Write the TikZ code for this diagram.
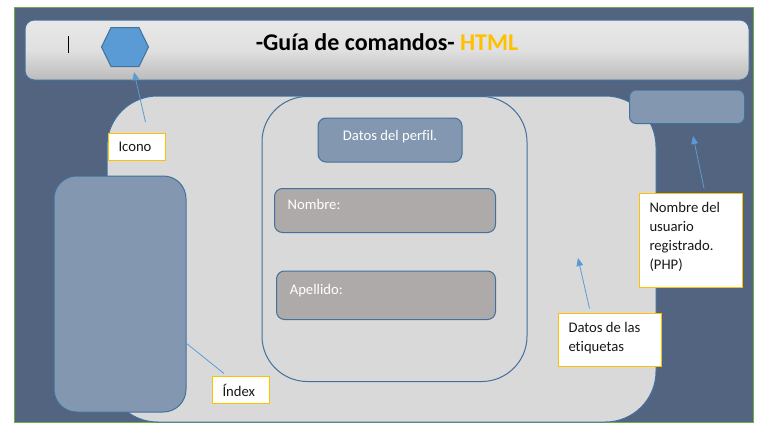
\documentclass[tikz,border=0pt]{standalone}
\usepackage{fontspec}
\setmainfont[Ligatures=NoCommon]{Carlito}
\usetikzlibrary{arrows.meta}
\definecolor{bgblue}{HTML}{526480}
\definecolor{edgeblue}{HTML}{41719C}
\definecolor{lightslate}{HTML}{8497B0}
\definecolor{panelgray}{HTML}{D9D9D9}
\definecolor{stone}{HTML}{AEAAAA}
\definecolor{hexblue}{HTML}{5B9BD5}
\definecolor{gold}{HTML}{FFC000}
\definecolor{framegreen}{HTML}{70AD47}
\definecolor{hdrtop}{HTML}{E8E8E8}
\definecolor{hdrmid}{HTML}{E0E0E0}
\definecolor{hdrbot}{HTML}{BBBBBB}
\pgfdeclareverticalshading{hdrshade}{100bp}{color(0bp)=(hdrbot); color(25bp)=(hdrbot); color(50bp)=(hdrmid); color(75bp)=(hdrtop); color(100bp)=(hdrtop)}
\newdimen\pxu
\pxu=0.75pt
\newcommand{\pxbox}[4][l]{\parbox[t][#3\pxu][t]{#2\pxu}{\ifx#1c\centering\fi\strut #4}}
\tikzset{
  boxbase/.style={anchor=north west,inner sep=0pt,outer sep=0pt,line width=0.75pt,draw=edgeblue},
  panel/.style={boxbase,fill=panelgray,rounded corners=#1},
  slate/.style={boxbase,fill=lightslate,rounded corners=#1},
  field/.style={boxbase,fill=stone,rounded corners=6pt},
  note/.style={anchor=north west,inner sep=0pt,outer sep=0pt,draw=gold,line width=0.75pt,fill=white,font=\fontsize{11}{14.3}\selectfont,text=black!90},
  lead/.style={draw=hexblue,line width=0.6pt},
  pointer/.style={lead,-{Triangle[length=6pt,width=5pt]}},
  whitetext/.style={text=white,font=\fontsize{11}{14.3}\selectfont}
}
\begin{document}
\begin{tikzpicture}[x=0.75pt,y=-0.75pt]
\useasboundingbox (0,0) rectangle (763,432);
% frame
\draw[draw=framegreen,fill=bgblue,line width=0.75pt] (14.5,7.5) rectangle (753.5,422.5);
% header
\node[boxbase,rounded corners=7pt,shading=hdrshade,minimum width=724\pxu,minimum height=60\pxu] (header) at (25,20) {};
\node[anchor=base,inner sep=0pt,font=\fontsize{18}{22}\selectfont\bfseries] (title) at (387,50) {-Guía de comandos- \textcolor{gold}{HTML}};
\draw[black,line width=0.75pt] (68.5,36) -- (68.5,53);
\draw[fill=hexblue,draw=edgeblue,line width=0.75pt] (101.5,47) -- (111,27.5) -- (139,27.5) -- (148.5,47) -- (139,66.5) -- (111,66.5) -- cycle;
% panels
\node[panel=38pt,minimum width=549\pxu,minimum height=326\pxu] (main) at (107,96) {};
\node[panel=34pt,minimum width=265\pxu,minimum height=285\pxu] (inner) at (262,96.5) {};
\node[slate=6pt,minimum width=144\pxu,minimum height=44\pxu,text=white,font=\fontsize{11}{14.3}\selectfont] (perfil) at (318,118) {\pxbox[c]{144}{44}{\rule{0pt}{7\pxu}\\[-7.5pt]Datos del perfil.}};
\node[field,minimum width=221\pxu,minimum height=44\pxu,whitetext] (nombre) at (274.5,188.5) {\hspace{4pt}\pxbox{200}{44}{\rule{0pt}{3\pxu}\\[-8.2pt]Nombre:}};
\node[field,minimum width=219\pxu,minimum height=48.5\pxu,whitetext] (apellido) at (276.5,271) {\hspace{5.7pt}\pxbox{200}{48.5}{\rule{0pt}{3\pxu}\\[-6.8pt]Apellido:}};
\node[slate=17pt,minimum width=132\pxu,minimum height=236\pxu] (index) at (54,176) {};
\node[slate=5pt,minimum width=115\pxu,minimum height=33.5\pxu] (user) at (629.5,90) {};
% notes
\node[note] (noteicono) at (108.5,133.5) {\hspace{7.5pt}\pxbox{47}{27}{\rule{0pt}{2\pxu}\\[-10.8pt]Icono}};
\node[note] (noteindex) at (212.5,376) {\hspace{7.5pt}\pxbox{47}{27}{\rule{0pt}{2\pxu}\\[-9pt]Índex}};
\node[note] (noteuser) at (639.5,193.5) {\hspace{7.5pt}\pxbox{93}{94}{\rule{0pt}{2\pxu}\\[-10pt]Nombre del\\usuario\\registrado.\\(PHP)}};
\node[note] (notedatos) at (558.5,313.5) {\hspace{7.5pt}\pxbox{93}{53}{\rule{0pt}{2\pxu}\\[-10pt]Datos de las\\etiquetas}};
% connectors
\coordinate (iconofrom) at (145.5,122);
\coordinate (iconoto) at (134,72);
\coordinate (userfrom) at (704,188);
\coordinate (userto) at (693,136);
\coordinate (datosfrom) at (589.5,308.5);
\coordinate (datosto) at (578,258);
\coordinate (indexfrom) at (224,373.5);
\coordinate (indexto) at (186,343);
\draw[pointer] (iconofrom) -- (iconoto);
\draw[pointer] (userfrom) -- (userto);
\draw[pointer] (datosfrom) -- (datosto);
\draw[lead] (indexfrom) -- (indexto);
\end{tikzpicture}
\end{document}
